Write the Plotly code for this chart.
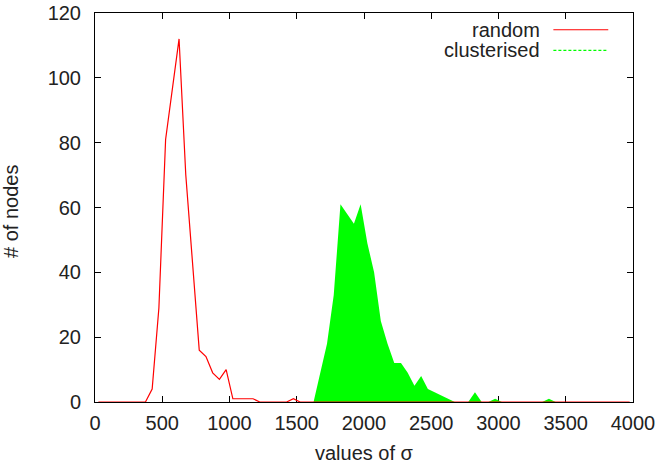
import plotly.graph_objects as go

# --- data (bin centres of sigma, node counts) ---
random_sigma = [25, 375, 425, 475, 525, 575, 625, 675, 725, 775, 825, 875, 925, 975,
                1025, 1075, 1125, 1175, 1225, 1425, 1475, 1525, 3975]
random_nodes = [0, 0, 4, 29, 81, 97, 112, 70, 42, 16, 14, 9, 7, 10,
                1, 1, 1, 1, 0, 0, 1, 0, 0]

clust_sigma = [25, 1625, 1675, 1725, 1775, 1825, 1875, 1925, 1975, 2025, 2075, 2125,
               2175, 2225, 2275, 2325, 2375, 2425, 2475, 2525, 2575, 2625, 2675,
               2775, 2825, 2875, 2925, 2975, 3025, 3325, 3375, 3425, 3975]
clust_nodes = [0, 0, 9, 18, 33, 61, 58, 55, 61, 49, 40, 25,
               18, 12, 12, 9, 5, 8, 4, 3, 2, 1, 0,
               0, 3, 0, 0, 1, 0, 0, 1, 0, 0]

x_ticks = [0, 500, 1000, 1500, 2000, 2500, 3000, 3500, 4000]
y_ticks = [0, 20, 40, 60, 80, 100, 120]

FONT = "Liberation Sans, Arial, sans-serif"
TXT = "#222222"

fig = go.Figure()
fig.add_trace(go.Scatter(x=clust_sigma, y=clust_nodes, mode="lines",
                         line=dict(width=0, color="#00ff00"), fill="tozeroy",
                         fillcolor="#00ff00", showlegend=False, hoverinfo="skip"))
fig.add_trace(go.Scatter(x=random_sigma, y=random_nodes, mode="lines",
                         line=dict(width=1.2, color="#ff0000"), showlegend=False))

axis_common = dict(showline=True, linecolor="#000000", linewidth=1, mirror="ticks",
                   ticks="inside", ticklen=6, tickcolor="#000000", tickwidth=1,
                   showgrid=False, zeroline=False, layer="below traces",
                   automargin=False,
                   tickfont=dict(family=FONT, size=20, color=TXT))

fig.update_layout(
    width=657, height=474,
    margin=dict(l=95, r=24, t=13, b=72),
    paper_bgcolor="white", plot_bgcolor="white",
    showlegend=False,
    xaxis=dict(range=[0, 4000], tickvals=x_ticks, ticktext=[str(v) for v in x_ticks],
               ticklabelstandoff=3, **axis_common),
    yaxis=dict(range=[0, 120], tickvals=y_ticks, ticktext=[str(v) for v in y_ticks],
               ticklabelstandoff=9, **axis_common),
    font=dict(family=FONT, size=20, color=TXT),
)

# axis titles
fig.add_annotation(text="values of σ", xref="paper", yref="paper", x=0.5, y=-0.13,
                   xanchor="center", yanchor="middle", showarrow=False,
                   font=dict(family=FONT, size=20, color=TXT))
fig.add_annotation(text="# of nodes", xref="paper", yref="paper", x=-0.155, y=0.49,
                   xanchor="center", yanchor="middle", textangle=-90, showarrow=False,
                   font=dict(family=FONT, size=20, color=TXT))

# gnuplot-style key (text right-aligned, sample to the right)
key = [("random", "#ff0000", "solid", 0.956, 0.957),
       ("clusterised", "#00ff00", "dash", 0.904, 0.904)]
for label, col, dash, ty, ly in key:
    fig.add_annotation(text=label, xref="paper", yref="paper", x=0.830, y=ty,
                       xanchor="right", yanchor="middle", showarrow=False,
                       height=20, valign="middle",
                       font=dict(family=FONT, size=20, color=TXT))
    fig.add_shape(type="line", xref="paper", yref="paper", x0=0.852, x1=0.954,
                  y0=ly, y1=ly, line=dict(color=col, width=1.2,
                                          dash="solid" if dash == "solid" else "3px,2px"))

fig.write_html("out.html")
